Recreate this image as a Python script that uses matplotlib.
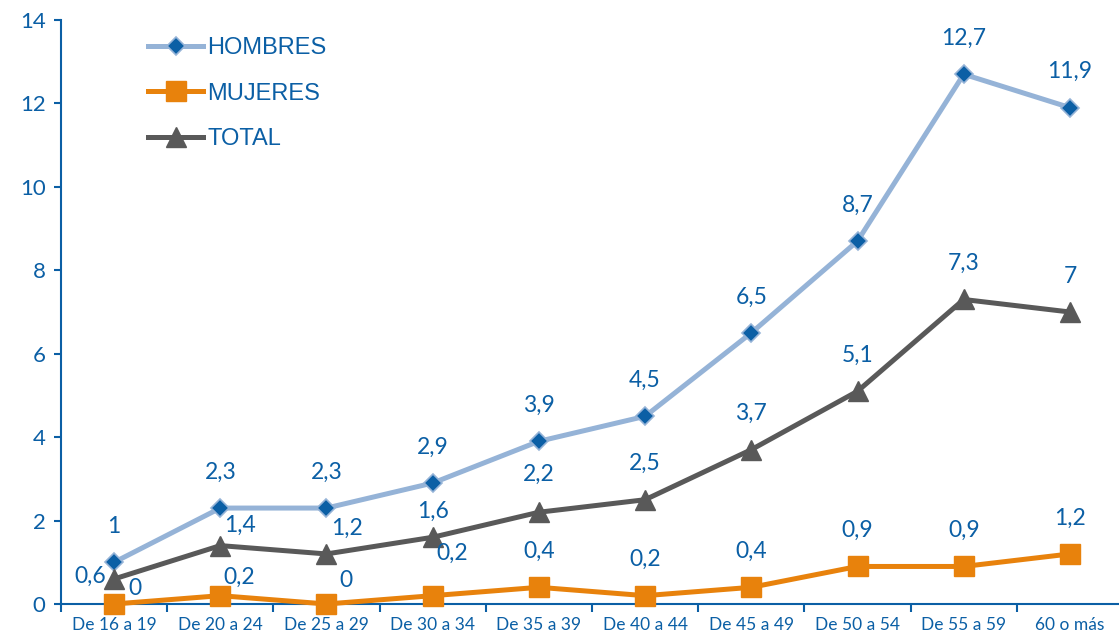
import matplotlib
matplotlib.use('Agg')
import matplotlib.pyplot as plt
import numpy as np

categorias = ['De 16 a 19', 'De 20 a 24', 'De 25 a 29', 'De 30 a 34', 'De 35 a 39',
              'De 40 a 44', 'De 45 a 49', 'De 50 a 54', 'De 55 a 59', '60 o más']
hombres = [1, 2.3, 2.3, 2.9, 3.9, 4.5, 6.5, 8.7, 12.7, 11.9]
mujeres = [0, 0.2, 0, 0.2, 0.4, 0.2, 0.4, 0.9, 0.9, 1.2]
total = [0.6, 1.4, 1.2, 1.6, 2.2, 2.5, 3.7, 5.1, 7.3, 7.0]

azul = '#0B5FA5'
fig = plt.figure(figsize=(11.19, 6.37), dpi=100)
ax = fig.add_axes([0.0545, 0.0518, 0.9491, 0.9168])

x = np.arange(len(categorias))

ax.plot(x, hombres, color='#95B3D7', lw=3.6, marker='D', markersize=9,
        markerfacecolor=azul, markeredgecolor='#95B3D7', markeredgewidth=1.2,
        label='HOMBRES', zorder=3, clip_on=False)
ax.plot(x, mujeres, color='#E8820C', lw=3.6, marker='s', markersize=15,
        markerfacecolor='#E8820C', markeredgecolor='#E8820C',
        label='MUJERES', zorder=4, clip_on=False)
ax.plot(x, total, color='#595959', lw=3.6, marker='^', markersize=14,
        markerfacecolor='#595959', markeredgecolor='#595959',
        label='TOTAL', zorder=3, clip_on=False)

def fmt(v):
    s = f'{v:g}'
    return s.replace('.', ',')

# label offsets in pixels
off_h = [(0, 36)] * 10
off_t = [(-24, 3), (20, 20), (20, 26), (0, 26), (0, 38), (0, 36), (0, 36), (0, 36), (0, 36), (0, 36)]
off_m = [(21, 16), (19, 18), (19, 24), (19, 42), (0, 36), (0, 36), (0, 36), (0, 36), (0, 36), (0, 36)]

for serie, offs in [(hombres, off_h), (total, off_t), (mujeres, off_m)]:
    for i, v in enumerate(serie):
        ax.annotate(fmt(v), (x[i], v), xytext=offs[i], textcoords='offset pixels',
                    ha='center', va='center', fontsize=16.5, color=azul,
                    family='Lato', zorder=5)

ax.set_xlim(-0.5, 9.5)
ax.set_ylim(0, 14)
ax.set_yticks(range(0, 15, 2))
ax.tick_params(axis='y', colors=azul, labelsize=16, length=5, width=1.5, pad=6)
for t in ax.get_yticklabels():
    t.set_family('Lato')

ax.set_xticks(np.arange(-0.5, 10, 1))
ax.set_xticklabels([])
ax.set_xticks(x, minor=True)
ax.set_xticklabels(categorias, minor=True)
ax.tick_params(axis='x', which='major', colors=azul, length=6, width=1.5)
ax.tick_params(axis='x', which='minor', length=0, labelsize=12.5, labelcolor=azul, pad=9)
for t in ax.get_xticklabels(minor=True):
    t.set_family('Lato')

for s in ['top', 'right']:
    ax.spines[s].set_visible(False)
for s in ['left', 'bottom']:
    ax.spines[s].set_color(azul)
    ax.spines[s].set_linewidth(1.5)

leg = ax.legend(loc='upper left', bbox_to_anchor=(0.082, 0.971), frameon=False,
                borderaxespad=0, borderpad=0,
                prop={'family': 'Liberation Sans', 'size': 17}, handlelength=2.33,
                handletextpad=0.17, labelspacing=1.0)
for t in leg.get_texts():
    t.set_color(azul)

fig.savefig('out.png', dpi=100)
